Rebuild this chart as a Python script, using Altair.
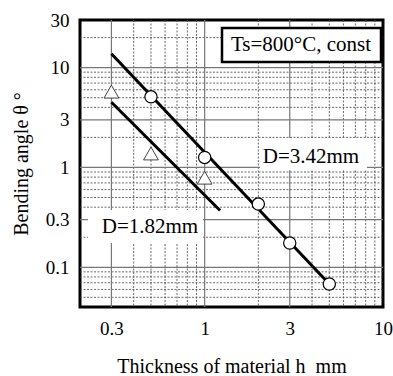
import altair as alt
import pandas as pd

# Measured bending angle, roll diameter D = 3.42 mm (circles)
h_342 = [0.5, 1.0, 2.0, 3.0, 5.0]
theta_342 = [5.1, 1.26, 0.43, 0.175, 0.068]

# Measured bending angle, roll diameter D = 1.82 mm (triangles)
h_182 = [0.3, 0.5, 1.0]
theta_182 = [5.75, 1.38, 0.79]

# Fitted straight lines (end points on log-log axes)
fit_h_342 = [0.3, 5.0]
fit_theta_342 = [13.8, 0.068]
fit_h_182 = [0.3, 1.22]
fit_theta_182 = [4.5, 0.37]

# Graph-paper grid and axis tick values
x_major = [0.3, 1, 3]
x_minor = [0.4, 0.5, 0.6, 0.7, 0.8, 0.9, 2, 4, 5, 6, 7, 8, 9]
y_major = [0.1, 0.3, 1, 3, 10]
y_minor = [0.05, 0.06, 0.07, 0.08, 0.09, 0.2, 0.4, 0.5, 0.6, 0.7, 0.8, 0.9,
           2, 4, 5, 6, 7, 8, 9, 20]
x_ticks = [0.3, 1, 3, 10]
y_ticks = [0.1, 0.3, 1, 3, 10, 30]

FONT = "Liberation Serif"

xs = alt.Scale(type="log", domain=[0.2, 10], nice=False)
ys = alt.Scale(type="log", domain=[0.04, 30], nice=False)

x_axis = alt.Axis(values=x_ticks, format="~g", title="Thickness of material h\u00a0\u00a0mm",
                  grid=False, ticks=False, domain=False,
                  labelPadding=12, titlePadding=18, labelFlush=False)
y_axis = alt.Axis(values=y_ticks, format="~g", title="Bending angle θ °",
                  grid=False, ticks=False, domain=False,
                  labelPadding=11, titlePadding=14, labelFlush=False)


def X(field):
    return alt.X(field, type="quantitative", scale=xs, axis=x_axis)


def Y(field):
    return alt.Y(field, type="quantitative", scale=ys, axis=y_axis)


one = pd.DataFrame({"k": [0]})

grid_x_minor = alt.Chart(pd.DataFrame({"h": x_minor})).mark_rule(
    color="#444", strokeWidth=0.8, strokeDash=[2, 1.5]).encode(x=X("h"))
grid_y_minor = alt.Chart(pd.DataFrame({"theta": y_minor})).mark_rule(
    color="#444", strokeWidth=0.8, strokeDash=[2, 1.5]).encode(y=Y("theta"))
grid_x_major = alt.Chart(pd.DataFrame({"h": x_major})).mark_rule(
    color="#777", strokeWidth=1.2).encode(x=X("h"))
grid_y_major = alt.Chart(pd.DataFrame({"theta": y_major})).mark_rule(
    color="#777", strokeWidth=1.2).encode(y=Y("theta"))

# White backgrounds behind the in-plot labels
bg_342 = alt.Chart(one).mark_rect(fill="white").encode(
    x=alt.value(180), x2=alt.value(287), y=alt.value(118), y2=alt.value(150))
bg_182 = alt.Chart(one).mark_rect(fill="white").encode(
    x=alt.value(8), x2=alt.value(123), y=alt.value(190), y2=alt.value(223))

line_342 = alt.Chart(pd.DataFrame({"h": fit_h_342, "theta": fit_theta_342})).mark_line(
    color="black", strokeWidth=3).encode(x=X("h"), y=Y("theta"))
line_182 = alt.Chart(pd.DataFrame({"h": fit_h_182, "theta": fit_theta_182})).mark_line(
    color="black", strokeWidth=3).encode(x=X("h"), y=Y("theta"))

pts_342 = alt.Chart(pd.DataFrame({"h": h_342, "theta": theta_342})).mark_point(
    shape="circle", filled=True, fill="white", stroke="black", strokeWidth=1.2,
    size=150, opacity=1).encode(x=X("h"), y=Y("theta"))
pts_182 = alt.Chart(pd.DataFrame({"h": h_182, "theta": theta_182})).mark_point(
    shape="triangle-up", filled=True, fill="white", stroke="#444", strokeWidth=1,
    size=220, opacity=1).encode(x=X("h"), y=Y("theta"))

lbl_342 = alt.Chart(one).mark_text(font=FONT, fontSize=21, color="black",
                                   align="center", baseline="middle").encode(
    x=alt.value(231), y=alt.value(137), text=alt.value("D=3.42mm"))
lbl_182 = alt.Chart(one).mark_text(font=FONT, fontSize=21, color="black",
                                   align="center", baseline="middle").encode(
    x=alt.value(70), y=alt.value(207), text=alt.value("D=1.82mm"))

cond_box = alt.Chart(one).mark_rect(fill="white", stroke="black", strokeWidth=2.5).encode(
    x=alt.value(142), x2=alt.value(301), y=alt.value(8), y2=alt.value(42))
cond_txt = alt.Chart(one).mark_text(font=FONT, fontSize=21, color="black",
                                    align="center", baseline="middle").encode(
    x=alt.value(221), y=alt.value(25), text=alt.value("Ts=800°C, const"))

chart = alt.layer(
    grid_x_minor, grid_y_minor, grid_x_major, grid_y_major,
    bg_342, bg_182, line_342, line_182, pts_342, pts_182,
    lbl_342, lbl_182, cond_box, cond_txt,
).properties(
    width=303, height=287,
    autosize=alt.AutoSizeParams(type="none"),
    padding={"left": 80, "top": 20, "right": 10, "bottom": 69},
    background="white",
).configure_view(
    stroke="black", strokeWidth=3
).configure_axis(
    labelFont=FONT, labelFontSize=19, labelColor="black",
    titleFont=FONT, titleFontSize=20, titleFontWeight="normal", titleColor="black",
)

chart.save("out.html", embed_options={"renderer": "svg", "actions": False})
